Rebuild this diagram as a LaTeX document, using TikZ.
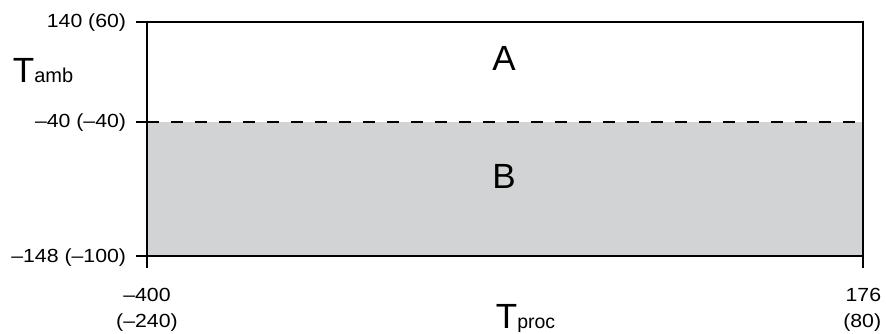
\documentclass[tikz,border=0pt]{standalone}
\usepackage{fontspec}
\setmainfont{Liberation Sans}
\newfontfamily\numfont{Liberation Sans}[FakeStretch=1.12]
\usetikzlibrary{calc}
\definecolor{regiongray}{RGB}{209,211,212}

\begin{document}
\begin{tikzpicture}[x=1pt,y=-1pt,line width=1.8pt,
  numlabel/.style={font=\numfont\fontsize{19}{26}\selectfont,inner sep=0pt},
  biglabel/.style={font=\fontsize{35}{38}\selectfont,inner sep=0pt}]
\useasboundingbox (0,0) rectangle (886,334);
\coordinate (tl) at (147,22);
\coordinate (ml) at (147,122);
\coordinate (bl) at (147,256);
\coordinate (tr) at (863,22);
\coordinate (mr) at (863,122);
\coordinate (br) at (863,256);
\fill [regiongray] (ml) rectangle (br);
\draw (tl) rectangle (br);
\draw [dash pattern=on 12pt off 12pt] (ml) -- (mr);
\draw (tl) -- ++(-11,0);
\draw (ml) -- ++(-11,0);
\draw (bl) -- ++(-11,0);
\draw (bl) -- ++(0,12);
\draw (br) -- ++(0,12);
\node [numlabel,anchor=base east] (amax) at (127,28) {140 (60)};
\node [numlabel,anchor=base east] (amid) at (127,128) {–40 (–40)};
\node [numlabel,anchor=base east] (amin) at (127,262) {–148 (–100)};
\node [numlabel,align=center,anchor=base] (pmin) at (147,327) {–400\\(–240)};
\node [numlabel,align=right,anchor=base east] (pmax) at (882,327) {176\\(80)};
\node [biglabel,anchor=base west] (tamb) at (12,83) {T{\fontsize{20}{22}\selectfont amb}};
\node [biglabel,anchor=base west] (tproc) at (495,328) {T{\fontsize{19.5}{22}\selectfont proc}};
\node [biglabel,anchor=base] (rega) at (504,71) {A};
\node [biglabel,anchor=base] (regb) at (504,188) {B};
\end{tikzpicture}
\end{document}
